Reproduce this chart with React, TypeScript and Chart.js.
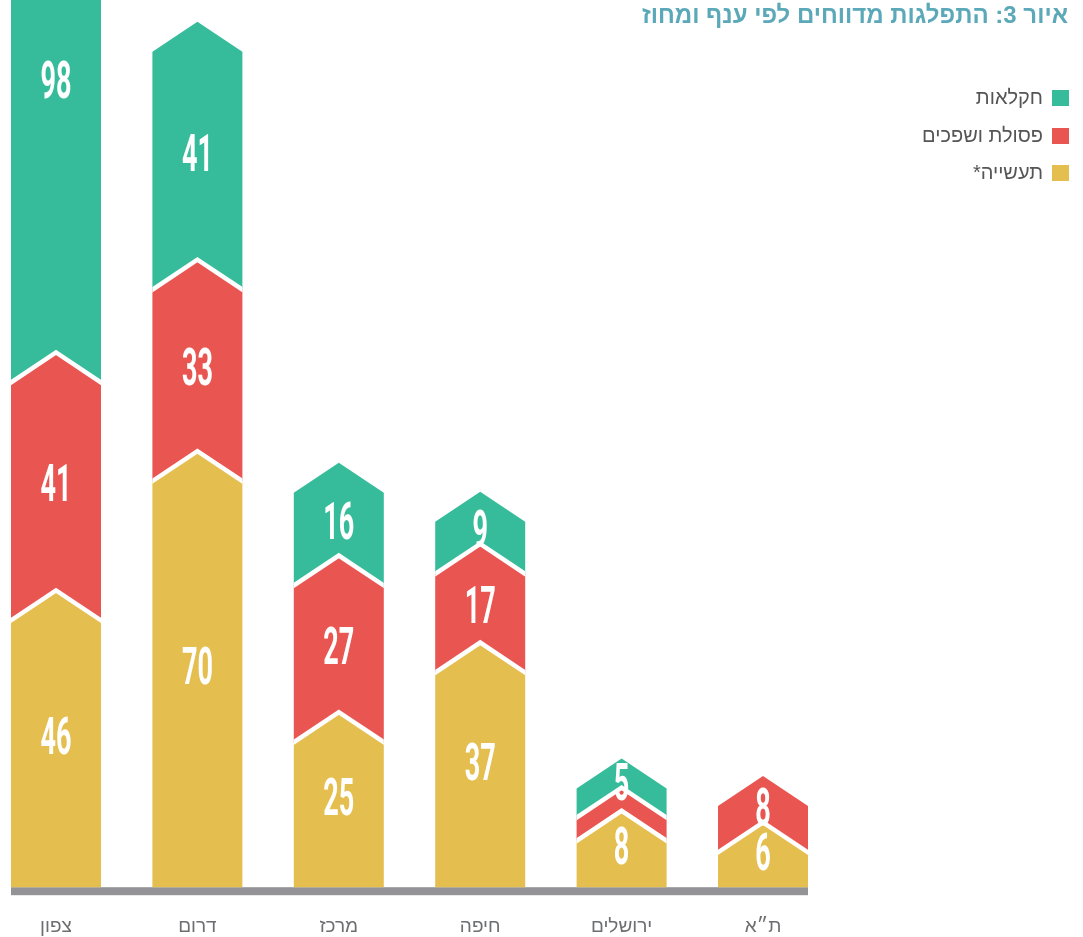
import { useEffect, useRef } from "react";
import { Chart, registerables } from "chart.js";

Chart.register(...registerables);

const categories = ["צפון", "דרום", "מרכז", "חיפה", "ירושלים", "ת״א"];
const industry = [46, 70, 25, 37, 8, 6];
const waste = [41, 33, 27, 17, 4, 8];
const agriculture = [98, 41, 16, 9, 5, 0];
const seriesNames = ["תעשייה*", "פסולת ושפכים", "חקלאות"];
const titleText = "איור 3: התפלגות מדווחים לפי ענף ומחוז";

const seriesValues = [industry, waste, agriculture];
const seriesColors = ["#e5be50", "#e95551", "#37bc9b"];
const TIP = 30;

const arrowPlugin = {
  id: "arrowBars",
  beforeDatasetDraw() {
    return false;
  },
  afterDatasetsDraw(chart: any) {
    const ctx = chart.ctx;
    const metas = seriesValues.map((_, d) => chart.getDatasetMeta(d));
    const n = categories.length;
    ctx.save();
    // baseline strip
    const f = metas[0].data[0].getProps(["x", "width", "base"], true);
    const l = metas[0].data[n - 1].getProps(["x", "width"], true);
    ctx.fillStyle = "#939397";
    ctx.fillRect(f.x - f.width / 2, f.base, l.x + l.width / 2 - (f.x - f.width / 2), 8);

    for (let i = 0; i < n; i++) {
      const segs: any[] = [];
      seriesValues.forEach((vals, d) => {
        if (vals[i] > 0) {
          const p = metas[d].data[i].getProps(["x", "y", "base", "width"], true);
          segs.push({ d, v: vals[i], ...p });
        }
      });
      segs.forEach((s, k) => {
        const L = s.x - s.width / 2;
        const R = s.x + s.width / 2;
        ctx.beginPath();
        ctx.moveTo(L, s.y);
        ctx.lineTo(s.x, s.y - TIP);
        ctx.lineTo(R, s.y);
        ctx.lineTo(R, s.base);
        if (k > 0) ctx.lineTo(s.x, s.base - TIP);
        ctx.lineTo(L, s.base);
        ctx.closePath();
        ctx.fillStyle = seriesColors[s.d];
        ctx.fill();
      });
      segs.forEach((s, k) => {
        if (k === 0) return;
        const L = s.x - s.width / 2;
        const R = s.x + s.width / 2;
        const slope = TIP / (s.width / 2);
        ctx.save();
        ctx.beginPath();
        ctx.rect(L, 0, s.width, chart.height);
        ctx.clip();
        ctx.beginPath();
        ctx.moveTo(L - 10, s.base + 10 * slope);
        ctx.lineTo(s.x, s.base - TIP);
        ctx.lineTo(R + 10, s.base + 10 * slope);
        ctx.strokeStyle = "#ffffff";
        ctx.lineWidth = 4.5;
        ctx.lineJoin = "miter";
        ctx.stroke();
        ctx.restore();
      });
      segs.forEach((s, k) => {
        if (s.v < 5) return;
        let cy = (s.base + s.y) / 2 - TIP / 2;
        if (k > 0) {
          cy = Math.min(cy, s.base - TIP - 12);
          cy = Math.max(cy, s.y - TIP + 26);
        }
        ctx.save();
        ctx.translate(s.x, cy);
        ctx.scale(0.52, 1);
        ctx.fillStyle = "#ffffff";
        ctx.font = "bold 52px Roboto, 'Liberation Sans', sans-serif";
        ctx.textAlign = "center";
        ctx.textBaseline = "middle";
        ctx.fillText(String(s.v), 0, 2);
        ctx.restore();
      });
    }
    ctx.restore();
  },
  afterDraw(chart: any) {
    const ctx = chart.ctx;
    ctx.save();
    ctx.direction = "rtl";
    ctx.textAlign = "right";
    ctx.textBaseline = "middle";
    ctx.fillStyle = "#5aa8b8";
    ctx.font = "bold 24px 'Liberation Sans', 'DejaVu Sans', sans-serif";
    ctx.fillText(titleText, 1068, 16);

    const order = [2, 1, 0];
    const ys = [98, 136, 173];
    order.forEach((d, k) => {
      ctx.fillStyle = seriesColors[d];
      ctx.fillRect(1052, ys[k] - 8, 17, 16);
      ctx.fillStyle = "#555555";
      ctx.font = "20px 'Liberation Sans', 'DejaVu Sans', sans-serif";
      ctx.fillText(seriesNames[d], 1043, ys[k]);
    });
    ctx.restore();
  },
};

export default function App() {
  const ref = useRef<HTMLCanvasElement | null>(null);
  useEffect(() => {
    document.body.style.margin = "0";
    if (!ref.current) return;
    const chart = new Chart(ref.current, {
      type: "bar",
      data: {
        labels: categories,
        datasets: seriesValues.map((vals, d) => ({
          label: seriesNames[d],
          data: vals,
          backgroundColor: seriesColors[d],
          barThickness: 90,
        })),
      },
      options: {
        responsive: false,
        animation: false,
        devicePixelRatio: 1,
        layout: { padding: { left: 56, right: 320, top: 17, bottom: -29 } },
        plugins: {
          legend: { display: false },
          tooltip: { enabled: false },
        },
        scales: {
          x: {
            stacked: true,
            offset: false,
            grid: { display: false, drawTicks: false },
            border: { display: false },
            ticks: {
              color: "#6d6e71",
              padding: 28,
              maxRotation: 0,
              autoSkip: false,
              font: { family: "'Liberation Sans', 'DejaVu Sans', sans-serif", size: 19 },
            },
          },
          y: {
            stacked: true,
            display: false,
            min: 0,
            max: 150,
          },
        },
      },
      plugins: [arrowPlugin],
    });
    return () => chart.destroy();
  }, []);
  return (
    <div style={{ position: "absolute", left: 0, top: 0, width: 1083, height: 937 }}>
      <canvas ref={ref} width={1083} height={937} />
    </div>
  );
}
